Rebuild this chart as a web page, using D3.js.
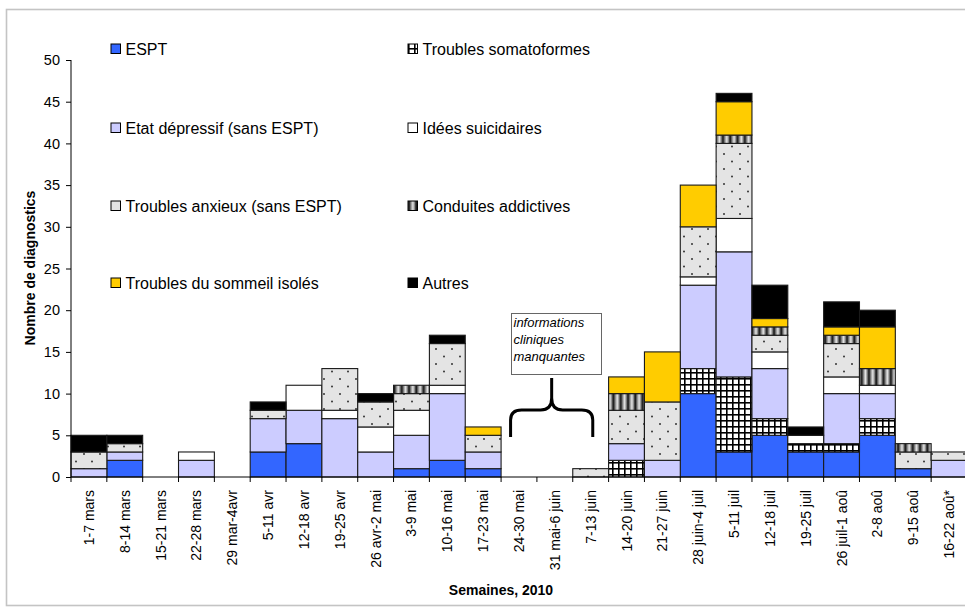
<!DOCTYPE html>
<html>
<head>
<meta charset="utf-8">
<script src="https://cdn.jsdelivr.net/npm/d3@7"></script>
<style>
  html, body { margin: 0; padding: 0; background: #fff; }
  svg { display: block; }
  text { font-family: "Liberation Sans", Arial, sans-serif; }
</style>
</head>
<body>
<svg id="chart" width="965" height="607"></svg>
<script>
// Weekly diagnoses, 2010
const weeks = ["1-7 mars", "8-14 mars", "15-21 mars", "22-28 mars", "29 mar-4avr",
  "5-11 avr", "12-18 avr", "19-25 avr", "26 avr-2 mai", "3-9 mai", "10-16 mai",
  "17-23 mai", "24-30 mai", "31 mai-6 juin", "7-13 juin", "14-20 juin", "21-27 juin",
  "28 juin-4 juil", "5-11 juil", "12-18 juil", "19-25 juil", "26 juil-1 aoû",
  "2-8 aoû", "9-15 aoû", "16-22 aoû*"];

const seriesNames = ["ESPT", "Troubles somatoformes", "Etat dépressif (sans ESPT)",
  "Idées suicidaires", "Troubles anxieux (sans ESPT)", "Conduites addictives",
  "Troubles du sommeil isolés", "Autres"];

const espt      = [0,2,0,0,0,3,4,0,0,1,2,1,0,0,0,0,0,10,3,5,3,3,5,1,0];
const somato    = [0,0,0,0,0,0,0,0,0,0,0,0,0,0,0,2,0,3,9,2,1,1,2,0,0];
const depressif = [1,1,0,2,0,4,4,7,3,4,8,2,0,0,0,2,2,10,15,6,0,6,3,0,2];
const suicid    = [0,0,0,1,0,0,3,1,3,3,1,0,0,0,0,0,0,1,4,2,1,2,1,0,0];
const anxieux   = [2,1,0,0,0,1,0,5,3,2,5,2,0,0,1,4,7,6,9,2,0,4,0,2,1];
const addict    = [0,0,0,0,0,0,0,0,0,1,0,0,0,0,0,2,0,0,1,1,0,1,2,1,0];
const sommeil   = [0,0,0,0,0,0,0,0,0,0,0,1,0,0,0,2,6,5,4,1,0,1,5,0,0];
const autres    = [2,1,0,0,0,1,0,0,1,0,1,0,0,0,0,0,0,0,1,4,1,3,2,0,0];

const yTicks = [0, 5, 10, 15, 20, 25, 30, 35, 40, 45, 50];
const noteLines = ["informations", "cliniques", "manquantes"];

const seriesValues = [espt, somato, depressif, suicid, anxieux, addict, sommeil, autres];
const table = weeks.map((w, i) => {
  const row = { week: w };
  seriesNames.forEach((k, j) => row[k] = seriesValues[j][i]);
  return row;
});

const svg = d3.select("#chart");
const W = 965, H = 607;
const margin = { left: 71, right: -2, top: 60, bottom: 130 };

// outer frame
svg.append("rect").attr("x", 6.5).attr("y", 9.5).attr("width", 975).attr("height", 596)
  .attr("fill", "none").attr("stroke", "#c4c4c4").attr("stroke-width", 1.6);

// fill patterns
const defs = svg.append("defs");

const dots = defs.append("pattern").attr("id", "p-dots").attr("patternUnits", "userSpaceOnUse")
  .attr("width", 16).attr("height", 15);
dots.append("rect").attr("width", 16).attr("height", 15).attr("fill", "#e4e4e4");
dots.append("circle").attr("cx", 4).attr("cy", 4).attr("r", 1).attr("fill", "#333");
dots.append("circle").attr("cx", 12).attr("cy", 11.5).attr("r", 1).attr("fill", "#333");

const grid = defs.append("pattern").attr("id", "p-grid").attr("patternUnits", "userSpaceOnUse")
  .attr("width", 6).attr("height", 6);
grid.append("rect").attr("width", 6).attr("height", 6).attr("fill", "#000");
grid.append("rect").attr("x", 1.6).attr("y", 1.6).attr("width", 4.4).attr("height", 4.4).attr("fill", "#fff");

const grad = defs.append("linearGradient").attr("id", "g-stripe")
  .attr("x1", "0").attr("x2", "1").attr("y1", "0").attr("y2", "0");
[["0", "#000"], ["0.25", "#777"], ["0.55", "#e8e8e8"], ["0.8", "#888"], ["1", "#111"]]
  .forEach(([o, c]) => grad.append("stop").attr("offset", o).attr("stop-color", c));
const stripes = defs.append("pattern").attr("id", "p-stripes").attr("patternUnits", "userSpaceOnUse")
  .attr("width", 7.3).attr("height", 10);
stripes.append("rect").attr("width", 7.3).attr("height", 10).attr("fill", "url(#g-stripe)");

const fills = {
  "ESPT": "#3366ff",
  "Troubles somatoformes": "url(#p-grid)",
  "Etat dépressif (sans ESPT)": "#ccccff",
  "Idées suicidaires": "#ffffff",
  "Troubles anxieux (sans ESPT)": "url(#p-dots)",
  "Conduites addictives": "url(#p-stripes)",
  "Troubles du sommeil isolés": "#ffcc00",
  "Autres": "#000000"
};

// scales
const x = d3.scaleBand().domain(weeks).range([71, 967]).padding(0);
const y = d3.scaleLinear().domain([0, 50]).range([477, 60]);

const stacked = d3.stack().keys(seriesNames)(table);

// bars
const g = svg.append("g");
stacked.forEach(layer => {
  g.selectAll(null)
    .data(layer.filter(d => d[1] - d[0] > 0))
    .join("rect")
    .attr("x", d => x(d.data.week))
    .attr("width", x.bandwidth())
    .attr("y", d => y(d[1]))
    .attr("height", d => y(d[0]) - y(d[1]))
    .attr("fill", fills[layer.key])
    .attr("stroke", "#1a1a1a")
    .attr("stroke-width", 1.1);
});

// y axis
const yAxis = svg.append("g").attr("transform", "translate(71,0)")
  .call(d3.axisLeft(y).tickValues(yTicks).tickSize(5).tickPadding(6));
yAxis.select(".domain").attr("stroke", "#000").attr("d", "M0," + y(0) + "V" + y(50));
yAxis.selectAll(".tick line").attr("stroke", "#000");
yAxis.selectAll("text").attr("font-size", 14.5).attr("fill", "#000")
  .attr("font-family", "'Liberation Sans', Arial, sans-serif");

// x axis: ticks on band boundaries
const xAxisG = svg.append("g");
xAxisG.append("line").attr("x1", 71).attr("x2", 967).attr("y1", y(0)).attr("y2", y(0))
  .attr("stroke", "#000");
xAxisG.selectAll("line.tk").data(weeks).join("line").attr("class", "tk")
  .attr("x1", d => x(d)).attr("x2", d => x(d))
  .attr("y1", y(0)).attr("y2", y(0) + 5).attr("stroke", "#000");
xAxisG.selectAll("text").data(weeks).join("text")
  .attr("transform", d => `translate(${x(d) + x.bandwidth() / 2 + 5},${y(0) + 13}) rotate(-90)`)
  .attr("text-anchor", "end")
  .attr("font-size", 14)
  .attr("fill", "#000")
  .text(d => d);

// axis titles
svg.append("text").attr("x", 501).attr("y", 595).attr("text-anchor", "middle")
  .attr("font-size", 14).attr("font-weight", "bold").text("Semaines, 2010");
svg.append("text").attr("transform", "translate(35,268) rotate(-90)").attr("text-anchor", "middle")
  .attr("font-size", 14).attr("font-weight", "bold").text("Nombre de diagnostics");

// legend (two columns, four rows)
const legendCols = [111, 408];
const legendRows = [49, 128, 206, 283];
seriesNames.forEach((name, i) => {
  const lx = legendCols[i % 2], ly = legendRows[Math.floor(i / 2)];
  svg.append("rect").attr("x", lx).attr("y", ly - 5).attr("width", 9.5).attr("height", 9.5)
    .attr("fill", fills[name]).attr("stroke", "#000").attr("stroke-width", 1);
  svg.append("text").attr("x", lx + 14.5).attr("y", ly + 5.8)
    .attr("font-size", 16).attr("fill", "#000").text(name);
});

// missing-data note with brace over the empty weeks
const bx0 = x("24-30 mai") + 9.5, bx1 = x("7-13 juin") + 20, bm = (bx0 + bx1) / 2;
svg.append("rect").attr("x", 511.5).attr("y", 313.5).attr("width", 90).attr("height", 61)
  .attr("fill", "#fff").attr("stroke", "#666").attr("stroke-width", 1);
noteLines.forEach((t, i) => {
  svg.append("text").attr("x", 513.5).attr("y", 327 + i * 17)
    .attr("font-size", 13).attr("font-style", "italic").attr("fill", "#000").text(t);
});
const by = 410;
svg.append("path")
  .attr("d", `M${bx0},437 L${bx0},${by + 10} Q${bx0},${by} ${bx0 + 11},${by} L${bm - 11},${by} Q${bm},${by} ${bm},${by - 12} L${bm},378
             M${bm},${by - 12} Q${bm},${by} ${bm + 11},${by} L${bx1 - 11},${by} Q${bx1},${by} ${bx1},${by + 10} L${bx1},437`)
  .attr("fill", "none").attr("stroke", "#000").attr("stroke-width", 3);
</script>
</body>
</html>
